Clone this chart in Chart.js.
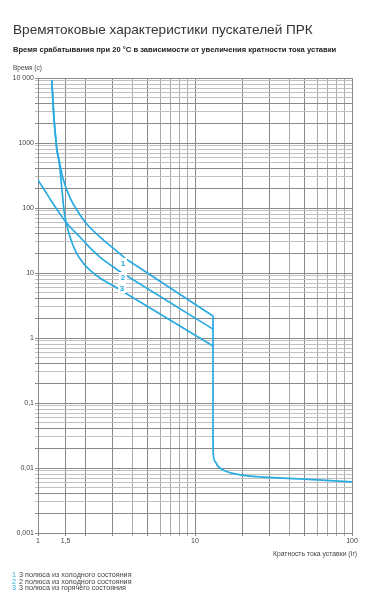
<!DOCTYPE html>
<html>
<head>
<meta charset="utf-8">
<script src="https://cdn.jsdelivr.net/npm/chart.js@4.4.1/dist/chart.umd.min.js"></script>
<style>
  html, body { margin: 0; padding: 0; background: #fff; }
  #wrap { position: relative; width: 373px; height: 600px; overflow: hidden; font-family: "Liberation Sans", Arial, sans-serif; }
  canvas { position: absolute; left: 0; top: 0; }
  .t { position: absolute; white-space: nowrap; line-height: 1; }
  #title { left: 13px; top: 23px; font-size: 13.6px; color: #333; }
  #subtitle { left: 13px; top: 45.5px; font-size: 7.6px; font-weight: bold; color: #222; }
  #ylab { left: 13px; top: 64.5px; font-size: 6.5px; color: #444; }
  #xlab { right: 16px; top: 551px; font-size: 6.8px; color: #444; }
  .lg { position: absolute; left: 12px; font-size: 7.2px; color: #444; white-space: nowrap; line-height: 1; }
  .lg .n { color: #29abe2; position: absolute; left: 0; top: 0; }
  .lg .s { position: absolute; left: 7px; top: 0; }
</style>
</head>
<body>
<div id="wrap">
  <canvas id="c" width="373" height="600"></canvas>
  <div class="t" id="title">Времятоковые характеристики пускателей ПРК</div>
  <div class="t" id="subtitle">Время срабатывания при 20 °C в зависимости от увеличения кратности тока уставки</div>
  <div class="t" id="ylab">Время (с)</div>
  <div class="t" id="xlab">Кратность тока уставки (Ir)</div>
  <div class="lg" style="top:571px"><span class="n">1</span><span class="s">3 полюса из холодного состояния</span></div>
  <div class="lg" style="top:577.5px"><span class="n">2</span><span class="s">2 полюса из холодного состояния</span></div>
  <div class="lg" style="top:584px"><span class="n">3</span><span class="s">3 полюса из горячего состояния</span></div>
</div>
<script>
// ---- data ----
// curved parts (smooth), straight parts and the instantaneous trip tail
const curve1CurveX = [1.225, 1.26, 1.30, 1.32, 1.36, 1.44, 1.60, 1.80, 2.02, 2.48, 3.00, 3.64];
const curve1CurveY = [9000, 2700, 1110, 780, 547, 290, 143, 87, 58.8, 35.8, 24.3, 16.4];
const curve1LineX = [3.64, 13.02, 13.02];
const curve1LineY = [16.4, 2.18, 0.03];
const tailX = [13.02, 13.06, 13.4, 14.1, 15.0, 16.2, 18, 22.4, 46.6, 100];
const tailY = [0.03, 0.0175, 0.0127, 0.0105, 0.0094, 0.0087, 0.0081, 0.0075, 0.0068, 0.0061];

const curve2CurveX = [1.0, 1.108, 1.228, 1.341, 1.486, 1.646, 1.851, 2.144, 2.483, 3.281];
const curve2CurveY = [270, 183, 124, 90, 63, 47.5, 35.8, 24.3, 17.6, 10.7];
const curve2LineX = [3.281, 13.02];
const curve2LineY = [10.7, 1.37];

const curve3CurveX = [1.225, 1.26, 1.30, 1.32, 1.36, 1.422, 1.464, 1.508, 1.599, 1.746, 1.963, 2.208, 2.483, 3.186];
const curve3CurveY = [9000, 2700, 1110, 780, 547, 189, 93, 61, 35.8, 21.0, 13.7, 10.4, 8.38, 5.88];
const curve3LineX = [3.186, 13.02];
const curve3LineY = [5.88, 0.753];

const curveNames = ['1', '2', '3'];
const curveLabelX = [3.48, 3.48, 3.43];
const curveLabelY = [14.3, 8.68, 5.88];

const xTickValues = [1, 1.5, 2, 3, 4, 5, 6, 7, 8, 9, 10, 20, 30, 40, 50, 60, 70, 80, 90, 100];
const xTickLabels = { 1: '1', 1.5: '1,5', 10: '10', 100: '100' };
const yDecades = [0.001, 0.01, 0.1, 1, 10, 100, 1000];
const yTickLabels = { 0.001: '0,001', 0.01: '0,01', 0.1: '0,1', 1: '1', 10: '10', 100: '100', 1000: '1000', 10000: '10 000' };

// ---- chart ----
const yTickValues = [];
yDecades.forEach(d => { for (let m = 1; m < 10; m++) yTickValues.push(+(d * m).toPrecision(3)); });
yTickValues.push(10000);

const BLUE = '#29abe2';
const toPts = (xs, ys) => xs.map((x, i) => ({ x: x, y: ys[i] }));
const smooth = (xs, ys) => ({ data: toPts(xs, ys), cubicInterpolationMode: 'monotone' });
const straight = (xs, ys) => ({ data: toPts(xs, ys), tension: 0 });

function isMajor(v) { const l = Math.log10(v); return Math.abs(l - Math.round(l)) < 1e-6; }
function lead(v) { return Math.round(v / Math.pow(10, Math.floor(Math.log10(v) + 1e-9))); }

const labelPlugin = {
  id: 'curveLabels',
  afterDatasetsDraw(chart) {
    const ctx = chart.ctx, xs = chart.scales.x, ys = chart.scales.y;
    ctx.save();
    ctx.font = 'bold 8px "Liberation Sans", Arial, sans-serif';
    ctx.textAlign = 'center';
    ctx.textBaseline = 'middle';
    curveNames.forEach((n, i) => {
      const px = xs.getPixelForValue(curveLabelX[i]);
      const py = ys.getPixelForValue(curveLabelY[i]);
      ctx.fillStyle = '#fff';
      ctx.fillRect(px - 4, py - 5, 8, 10);
      ctx.fillStyle = BLUE;
      ctx.fillText(n, px, py + 0.5);
    });
    ctx.restore();
  }
};

new Chart(document.getElementById('c'), {
  type: 'line',
  data: {
    datasets: [
      smooth(curve1CurveX, curve1CurveY), straight(curve1LineX, curve1LineY), smooth(tailX, tailY),
      smooth(curve2CurveX, curve2CurveY), straight(curve2LineX, curve2LineY),
      smooth(curve3CurveX, curve3CurveY), straight(curve3LineX, curve3LineY)
    ].map(d => Object.assign(d, { borderColor: BLUE, borderWidth: 1.7, pointRadius: 0, fill: false, borderJoinStyle: 'round', borderCapStyle: 'round' }))
  },
  options: {
    responsive: false,
    animation: false,
    devicePixelRatio: 1,
    layout: { padding: { top: 78, right: 21, bottom: 0, left: 0 } },
    plugins: { legend: { display: false }, tooltip: { enabled: false } },
    scales: {
      x: {
        type: 'logarithmic', min: 1, max: 100,
        afterBuildTicks: s => { s.ticks = xTickValues.map(v => ({ value: v })); },
        afterFit: s => { s.height = 67; },
        ticks: {
          autoSkip: false, maxRotation: 0, padding: 1,
          font: { family: '"Liberation Sans", Arial, sans-serif', size: 7 }, color: '#444',
          callback: v => xTickLabels[v] || ''
        },
        grid: {
          tickLength: 3,
          color: c => { const v = c.tick && c.tick.value; if (!v) return '#999'; if (isMajor(v) || v === 1.5 || [2, 3, 5].includes(lead(v))) return '#888'; return '#aaa'; },
          lineWidth: 1
        },
        border: { color: '#888' }
      },
      y: {
        type: 'logarithmic', min: 0.001, max: 10000,
        afterBuildTicks: s => { s.ticks = yTickValues.map(v => ({ value: v })); },
        afterFit: s => { s.width = 38; },
        ticks: {
          autoSkip: false, padding: 1,
          font: { family: '"Liberation Sans", Arial, sans-serif', size: 7 }, color: '#444',
          callback: v => yTickLabels[v] || ''
        },
        grid: {
          tickLength: 3,
          color: c => { const v = c.tick && c.tick.value; if (!v) return '#999'; if (isMajor(v) || [2, 4].includes(lead(v))) return '#8a8a8a'; return '#c0c0c0'; },
          lineWidth: 1
        },
        border: { color: '#888' }
      }
    }
  },
  plugins: [labelPlugin]
});
</script>
</body>
</html>
